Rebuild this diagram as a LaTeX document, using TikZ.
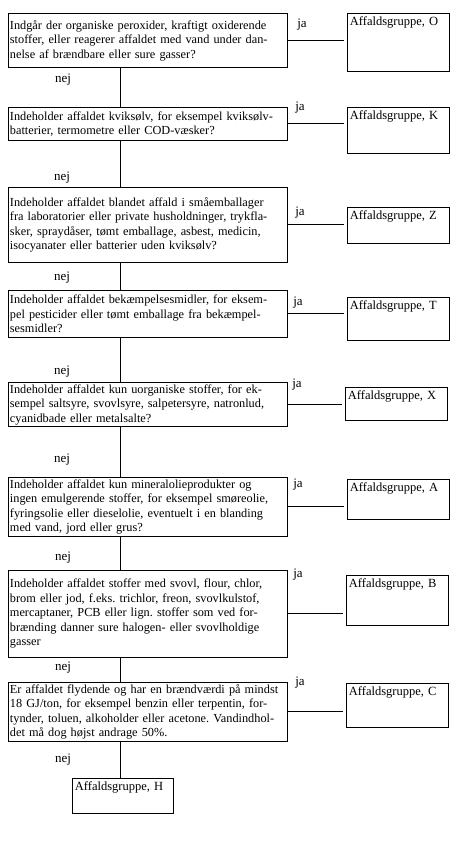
\documentclass[tikz,border=0pt]{standalone}
\usepackage{fontspec}
\setmainfont{Liberation Serif}
\usetikzlibrary{positioning,calc}
\frenchspacing

\begin{document}
\begin{tikzpicture}[
    x=1pt, y=-1pt,
    question/.style={rectangle, draw=black, line width=0.9pt, anchor=north west, text width=276pt, align=left, inner xsep=1.5pt, inner ysep=2pt, font=\fontsize{12.3}{14.5}\selectfont},
    groupbox/.style={rectangle, draw=black, line width=0.9pt, anchor=north west, text width=97pt, align=left, inner sep=2.5pt, text height=10pt, text depth=#1, font=\fontsize{12.5}{14}\selectfont},
    jalabel/.style={font=\fontsize{13}{14}\selectfont},
    nejlabel/.style={font=\fontsize{13}{14}\selectfont},
    link/.style={draw=black, line width=1pt}
]
\useasboundingbox (0,0) rectangle (460,849);

% Questions
\node[question, minimum height=54pt] (q1) at (8,13) {Indgår der organiske peroxider, kraftigt oxiderende\\stoffer, eller reagerer affaldet med vand under dan-\\nelse af brændbare eller sure gasser?};
\node[question, minimum height=33pt] (q2) at (8,107) {Indeholder affaldet kviksølv, for eksempel kviksølv-\\batterier, termometre eller COD-væsker?};
\node[question, minimum height=75pt] (q3) at (8,187) {Indeholder affaldet blandet affald i småemballager\\fra laboratorier eller private husholdninger, trykfla-\\sker, spraydåser, tømt emballage, asbest, medicin,\\isocyanater eller batterier uden kviksølv?};
\node[question, minimum height=47pt] (q4) at (8,290) {Indeholder affaldet bekæmpelsesmidler, for eksem-\\pel pesticider eller tømt emballage fra bekæmpel-\\sesmidler?};
\node[question, minimum height=41pt] (q5) at (8,382) {Indeholder affaldet kun uorganiske stoffer, for ek-\\sempel saltsyre, svovlsyre, salpetersyre, natronlud,\\cyanidbade eller metalsalte?};
\node[question, minimum height=57pt] (q6) at (8,477) {Indeholder affaldet kun mineralolieprodukter og\\ingen emulgerende stoffer, for eksempel smøreolie,\\fyringsolie eller dieselolie, eventuelt i en blanding\\med vand, jord eller grus?};
\node[question, minimum height=87pt] (q7) at (8,570) {Indeholder affaldet stoffer med svovl, flour, chlor,\\brom eller jod, f.eks. trichlor, freon, svovlkulstof,\\mercaptaner, PCB eller lign. stoffer som ved for-\\brænding danner sure halogen- eller svovlholdige\\gasser};
\node[question, minimum height=58pt] (q8) at (8,682) {Er affaldet flydende og har en brændværdi på mindst\\18 GJ/ton, for eksempel benzin eller terpentin, for-\\tynder, toluen, alkoholder eller acetone. Vandindhol-\\det må dog højst andrage 50\%.};

% Waste groups
\node[groupbox=43pt] (gO) at (347,13) {Affaldsgruppe, O};
\node[groupbox=31pt] (gK) at (347,107) {Affaldsgruppe, K};
\node[groupbox=21pt] (gZ) at (347,207) {Affaldsgruppe, Z};
\node[groupbox=28pt] (gT) at (347,297) {Affaldsgruppe, T};
\node[groupbox=18pt] (gX) at (345,387) {Affaldsgruppe, X};
\node[groupbox=25pt] (gA) at (347,479) {Affaldsgruppe, A};
\node[groupbox=35pt] (gB) at (346,575) {Affaldsgruppe, B};
\node[groupbox=29pt] (gC) at (346,683) {Affaldsgruppe, C};
\node[groupbox=20pt, text width=96pt] (gH) at (72,778) {Affaldsgruppe, H};

% Yes branches
\draw[link, shorten >=3pt] (q1.east) -- (q1.east -| gO.west);
\draw[link, shorten >=3pt] (q2.east) -- (q2.east -| gK.west);
\draw[link, shorten >=3pt] (q3.east) -- (q3.east -| gZ.west);
\draw[link, shorten >=3pt] (q4.east) -- (q4.east -| gT.west);
\draw[link, shorten >=3pt] (q5.east) -- (q5.east -| gX.west);
\draw[link, shorten >=3pt] (q6.east) -- (q6.east -| gA.west);
\draw[link, shorten >=3pt] (q7.east) -- (q7.east -| gB.west);
\draw[link, shorten >=3pt] (q8.east) -- (q8.east -| gC.west);

\node[jalabel] (ja1) at (302,25) {ja};
\node[jalabel] (ja2) at (300,108) {ja};
\node[jalabel] (ja3) at (300,213) {ja};
\node[jalabel] (ja4) at (298,303) {ja};
\node[jalabel] (ja5) at (297,385) {ja};
\node[jalabel] (ja6) at (298,485) {ja};
\node[jalabel] (ja7) at (298,575) {ja};
\node[jalabel] (ja8) at (300,683) {ja};

% No branches
\coordinate (spine) at (120,0);
\draw[link] (q1.south -| spine) -- (q2.north -| spine);
\draw[link] (q2.south -| spine) -- (q3.north -| spine);
\draw[link] (q3.south -| spine) -- (q4.north -| spine);
\draw[link] (q4.south -| spine) -- (q5.north -| spine);
\draw[link] (q5.south -| spine) -- (q6.north -| spine);
\draw[link] (q6.south -| spine) -- (q7.north -| spine);
\draw[link] (q7.south -| spine) -- (q8.north -| spine);
\draw[link] (q8.south -| spine) -- (gH.north -| spine);

\node[nejlabel] (nej1) at (63,80) {nej};
\node[nejlabel] (nej2) at (62,178) {nej};
\node[nejlabel] (nej3) at (62,278) {nej};
\node[nejlabel] (nej4) at (62,372) {nej};
\node[nejlabel] (nej5) at (62,460) {nej};
\node[nejlabel] (nej6) at (63,558) {nej};
\node[nejlabel] (nej7) at (63,668) {nej};
\node[nejlabel] (nej8) at (63,760) {nej};

\end{tikzpicture}
\end{document}
